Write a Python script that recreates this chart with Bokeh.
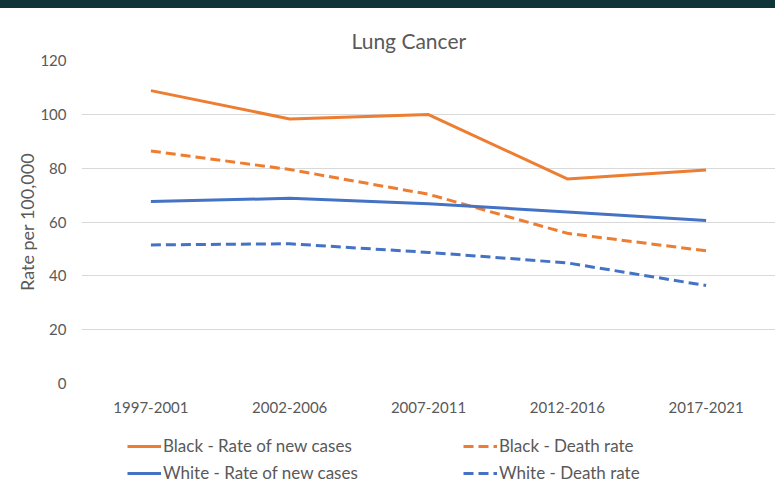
from bokeh.plotting import figure
from bokeh.models import Legend, LegendItem, FactorRange, Range1d, Div
from bokeh.layouts import column
from bokeh.embed import file_html
from bokeh.resources import INLINE

periods = ["1997-2001", "2002-2006", "2007-2011", "2012-2016", "2017-2021"]
black_new = [108.8, 98.3, 99.9, 76.0, 79.3]
black_death = [86.4, 79.5, 70.3, 55.8, 49.3]
white_new = [67.6, 68.8, 66.8, 63.7, 60.6]
white_death = [51.5, 51.9, 48.7, 44.8, 36.4]
series_labels = ["Black - Rate of new cases", "Black - Death rate",
                 "White - Rate of new cases", "White - Death rate"]

ORANGE = "#ED7D31"
BLUE = "#4472C4"
GRAY = "#595959"
DARK = "#0F3538"
FONT = "Lato"
styles = [(ORANGE, "solid"), (ORANGE, "10 5"), (BLUE, "solid"), (BLUE, "10 5")]
all_series = [black_new, black_death, white_new, white_death]

p = figure(x_range=FactorRange(*periods, range_padding=0), y_range=Range1d(0, 120),
           width=775, height=420, min_border_left=81, min_border_right=0,
           min_border_top=52, min_border_bottom=45,
           output_backend="svg", toolbar_location=None, title="Lung Cancer")

p.title.text_font = FONT
p.title.text_font_size = "21px"
p.title.text_font_style = "normal"
p.title.text_color = GRAY
p.title.align = "left"
p.title.offset = 270
p.title.standoff = 16

p.outline_line_color = None
p.xgrid.grid_line_color = None
p.ygrid.grid_line_color = "#D9D9D9"
p.ygrid.grid_line_width = 1
p.yaxis.ticker = [0, 20, 40, 60, 80, 100, 120]

for ax in (p.xaxis[0], p.yaxis[0]):
    ax.axis_line_color = None
    ax.major_tick_line_color = None
    ax.minor_tick_line_color = None
    ax.major_label_text_color = GRAY
    ax.major_label_text_font = FONT
    ax.major_label_text_font_size = "15px"

p.yaxis.major_label_standoff = 9
p.xaxis.major_label_standoff = 12
p.yaxis.axis_label = "Rate per 100,000"
p.yaxis.axis_label_text_font = FONT
p.yaxis.axis_label_text_font_size = "18px"
p.yaxis.axis_label_text_font_style = "normal"
p.yaxis.axis_label_text_color = GRAY
p.yaxis.axis_label_standoff = -1

for vals, (col, dash) in zip(all_series, styles):
    p.line(periods, vals, line_color=col, line_width=3, line_dash=dash)

# legend strip below the chart (its lines lie outside its visible range; only the swatches show)
p2 = figure(width=775, height=59, min_border=0, x_axis_location=None, y_axis_location=None,
            x_range=FactorRange(*periods), y_range=Range1d(-20, -10),
            output_backend="svg", toolbar_location=None)
p2.outline_line_color = None
p2.grid.grid_line_color = None
items = []
for lab, vals, (col, dash) in zip(series_labels, all_series, styles):
    r = p2.line(periods, vals, line_color=col, line_width=3, line_dash=dash)
    items.append(LegendItem(label=lab, renderers=[r]))

legend = Legend(items=items, orientation="horizontal", ncols=2, location=(46, 4),
                margin=0, padding=0, glyph_width=34, glyph_height=20, label_standoff=2,
                label_width=294, spacing=6, label_text_font=FONT,
                label_text_font_size="17px", label_text_color=GRAY,
                border_line_color=None, background_fill_alpha=0)
p2.add_layout(legend, "center")

top_strip = Div(width=775, height=8, margin=0, styles={"background-color": DARK})
page = column(top_strip, p, p2, spacing=0)
open("out.html", "w").write(file_html(page, INLINE))
